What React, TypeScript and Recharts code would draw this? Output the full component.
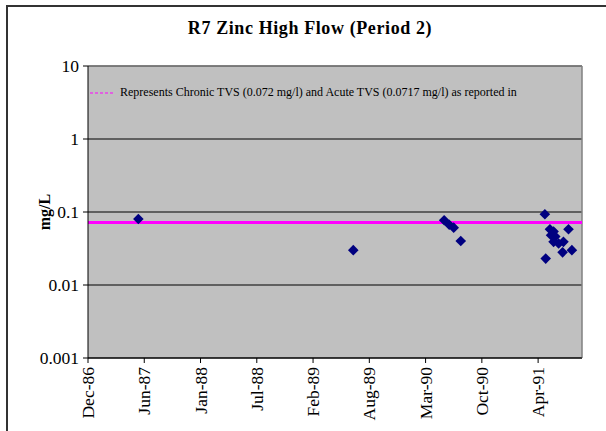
import React from 'react';
import { ScatterChart, Scatter, XAxis, YAxis, CartesianGrid, ReferenceLine } from 'recharts';

const chartTitle = 'R7 Zinc High Flow (Period 2)';
const yAxisTitle = 'mg/L';
const legendText = 'Represents Chronic TVS (0.072 mg/l) and Acute TVS (0.0717 mg/l) as reported in';

const axisStart = '1986-12-01';
const tickStepDays = 200;
const axisSpanDays = 1756;
const xTickLabels = ['Dec-86', 'Jun-87', 'Jan-88', 'Jul-88', 'Feb-89', 'Aug-89', 'Mar-90', 'Oct-90', 'Apr-91'];
const yTicks = [0.001, 0.01, 0.1, 1, 10];
const yTickLabels = ['0.001', '0.01', '0.1', '1', '10'];

const sampleDates = [
  '1987-05-29',
  '1989-07-01',
  '1990-05-20', '1990-06-07', '1990-06-23', '1990-07-18',
  '1991-05-13', '1991-05-16', '1991-05-31', '1991-06-13', '1991-06-04', '1991-06-19',
  '1991-06-13', '1991-07-01', '1991-07-18', '1991-08-05', '1991-07-15', '1991-08-17',
];
const zincValues = [
  0.080,
  0.030,
  0.077, 0.067, 0.061, 0.040,
  0.093, 0.023, 0.058, 0.054, 0.048, 0.046,
  0.039, 0.037, 0.039, 0.058, 0.028, 0.030,
];
const tvsValue = 0.072;

const FONT = '"Liberation Serif", "Times New Roman", Times, serif';
const dayOf = (s: string) => (Date.parse(s) - Date.parse(axisStart)) / 86400000;
const points = sampleDates.map((d, i) => ({ x: dayOf(d), y: zincValues[i] }));
const xTicks = xTickLabels.map((_, i) => i * tickStepDays);

const Diamond = (p: any) => {
  const { cx, cy } = p;
  const r = 5.3;
  return <polygon points={`${cx},${cy - r} ${cx + r},${cy} ${cx},${cy + r} ${cx - r},${cy}`} fill="#000080" />;
};

const XTick = (p: any) => {
  const { x, y, payload } = p;
  const label = xTickLabels[Math.round(payload.value / tickStepDays)] ?? '';
  return (
    <g transform={`translate(${x},${y + 2})`}>
      <text transform="rotate(-90)" textAnchor="end" dy="0.35em" style={{ fontFamily: FONT, fontSize: 17.5 }} fill="#000">
        {label}
      </text>
    </g>
  );
};

const YTick = (p: any) => {
  const { x, y, payload } = p;
  const idx = yTicks.indexOf(payload.value);
  return (
    <text x={x - 2} y={y} dy="0.35em" textAnchor="end" style={{ fontFamily: FONT, fontSize: 17.5 }} fill="#000">
      {idx >= 0 ? yTickLabels[idx] : String(payload.value)}
    </text>
  );
};

export default function App() {
  return (
    <div style={{ position: 'absolute', left: 0, top: 0, width: 606, height: 431, overflow: 'hidden', background: '#fff' }}>
      <div style={{ position: 'absolute', left: 6, top: 5, width: 640, height: 460, border: '2px solid #333', boxSizing: 'border-box' }} />
      <div style={{ position: 'absolute', left: 0, top: 18, width: 620, textAlign: 'center', fontFamily: FONT, fontWeight: 'bold', fontSize: 18, letterSpacing: 0.6, color: '#000' }}>
        {chartTitle}
      </div>
      <div style={{ position: 'absolute', left: 0, top: 0 }}>
        <ScatterChart width={606} height={431} margin={{ top: 66, right: 24, bottom: 0, left: 0 }}>
          <CartesianGrid vertical={false} horizontal={true} stroke="#000" fill="#C0C0C0" fillOpacity={1} />
          <XAxis
            type="number"
            dataKey="x"
            domain={[0, axisSpanDays]}
            ticks={xTicks}
            interval={0}
            height={73}
            allowDataOverflow
            stroke="#000"
            tickSize={5}
            tick={<XTick />}
          />
          <YAxis
            type="number"
            dataKey="y"
            scale="log"
            domain={[0.001, 10]}
            ticks={yTicks}
            interval={0}
            width={88}
            allowDataOverflow
            stroke="#000"
            tickSize={5}
            tick={<YTick />}
            label={(lp: any) => {
              const vb = lp.viewBox;
              const cy = vb.y + vb.height / 2;
              return (
                <text x={44} y={cy} transform={`rotate(-90, 44, ${cy})`} textAnchor="middle" dy="0.35em" style={{ fontFamily: FONT, fontWeight: 'bold', fontSize: 16 }} fill="#000">
                  {yAxisTitle}
                </text>
              );
            }}
          />
          <ReferenceLine y={10} stroke="#808080" strokeWidth={1.5} />
          <ReferenceLine x={axisSpanDays} stroke="#808080" strokeWidth={1.5} />
          <ReferenceLine y={tvsValue} stroke="#FF00FF" strokeWidth={3} />
          <Scatter data={points} shape={<Diamond />} isAnimationActive={false} />
        </ScatterChart>
      </div>
      <div style={{ position: 'absolute', left: 88, top: 85, display: 'flex', alignItems: 'center', fontFamily: FONT, fontSize: 12, color: '#000', whiteSpace: 'nowrap' }}>
        <svg width={28} height={10}>
          <line x1={2} y1={5} x2={27} y2={5} stroke="#FF00FF" strokeWidth={1} strokeDasharray="3 2" />
        </svg>
        <span style={{ marginLeft: 4 }}>{legendText}</span>
      </div>
    </div>
  );
}
